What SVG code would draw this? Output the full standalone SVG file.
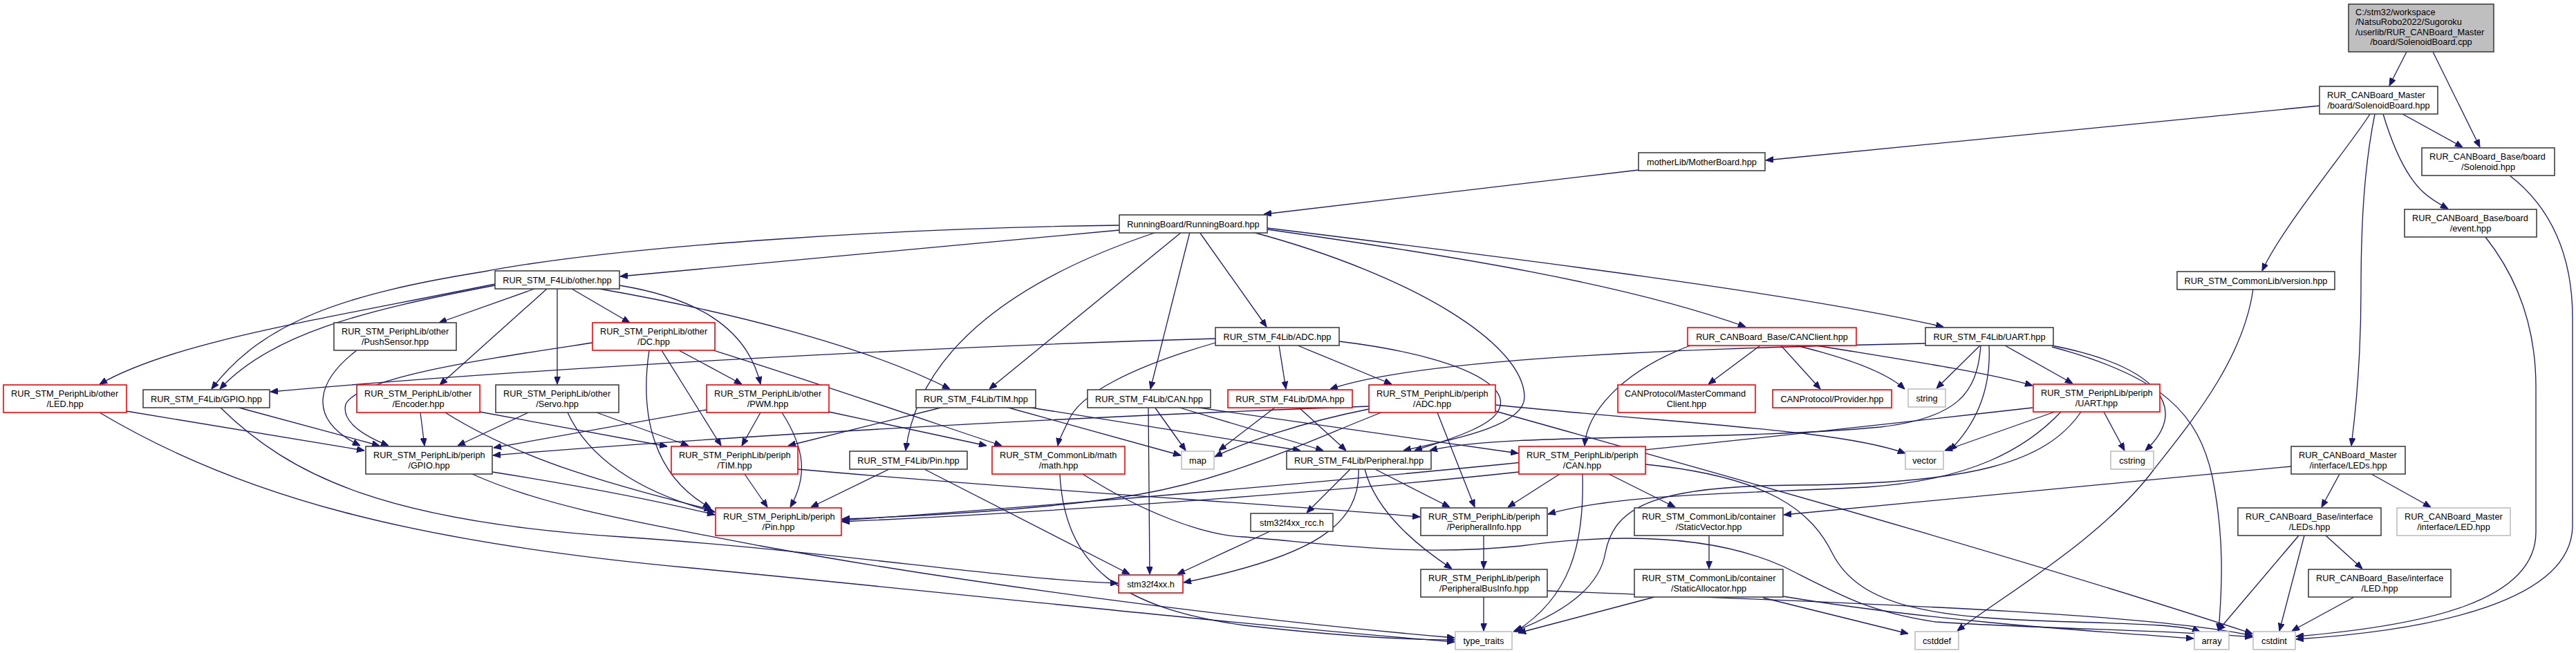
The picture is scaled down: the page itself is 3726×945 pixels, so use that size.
<svg xmlns="http://www.w3.org/2000/svg" width="3726" height="945" viewBox="0 0 3726 945">
<style>
text{font-family:"Liberation Sans",Arial,sans-serif;font-size:12.75px;fill:#000}
.c{text-anchor:middle}
.b{fill:#fff;stroke:#404040;stroke-width:1.6}
.r{fill:#fff;stroke:#ff0000;stroke-width:1.6}
.g{fill:#fff;stroke:#bfbfbf;stroke-width:1.6}
.m{fill:#bfbfbf;stroke:#404040;stroke-width:1.6}
.e path{fill:none;stroke:#191970;stroke-width:1.3;marker-end:url(#ah)}
</style>
<defs>
<marker id="ah" viewBox="0 0 11 9" refX="11" refY="4.5" markerWidth="11" markerHeight="9" markerUnits="userSpaceOnUse" orient="auto">
<path d="M0,0 L11,4.5 L0,9 z" fill="#191970" stroke="#191970" stroke-width="1"/>
</marker>
</defs>
<rect x="0" y="0" width="3726" height="945" fill="#fff"/>
<g id="edges" class="e">
<path d="M3481,75 L3456,124"/>
<path d="M3519,75 L3587,213"/>
<path d="M3475,165 L3562,213"/>
<path d="M3447,165 C3462,215 3480,255 3505,278 C3518,290 3530,296 3541,302"/>
<path d="M3428,165 C3400,210 3300,330 3272,392"/>
<path d="M3435,165 C3420,240 3415,320 3415,420 C3415,520 3408,590 3401,645"/>
<path d="M3355,153 L2554,232"/>
<path d="M3630,254 C3690,300 3721,370 3721,460 L3721,760 C3721,870 3520,912 3321,925"/>
<path d="M3595,343 C3640,400 3668,470 3668,560 L3668,770 C3668,870 3510,905 3321,921"/>
<path d="M3259,418 C3245,520 3170,610 3115,680 C3040,780 2900,860 2831,913"/>
<path d="M3384,686 L3358,734"/>
<path d="M3430,686 L3516,734"/>
<path d="M3314,675 L2580,745"/>
<path d="M3325,775 L3208,913"/>
<path d="M3333,775 L3297,913"/>
<path d="M3364,775 L3417,823"/>
<path d="M3405,864 L3315,913"/>
<path d="M2864,500 L2801,562"/>
<path d="M2877,500 C2880,560 2862,610 2820,652"/>
<path d="M2900,500 L2998,555"/>
<path d="M2968,500 C3120,530 3170,590 3103,652"/>
<path d="M2968,502 C3130,545 3180,600 3200,690 C3218,780 3214,850 3209,913"/>
<path d="M2785,497 C2400,505 2050,520 1924,563"/>
<path d="M2865,500 C2860,570 2830,605 2720,618 C2480,640 2180,625 2068,652"/>
<path d="M2972,596 L2813,652"/>
<path d="M3043,596 L3073,652"/>
<path d="M2940,590 C2500,640 1900,705 1218,753"/>
<path d="M2981,596 C2930,650 2850,695 2700,705 C2500,715 2340,715 2239,744"/>
<path d="M3010,596 C2960,670 2850,700 2600,702 C2400,703 2335,730 2322,800 C2312,860 2240,895 2189,914"/>
<path d="M2197,683 C1900,715 1500,742 1218,755"/>
<path d="M2256,686 L2181,734"/>
<path d="M2289,686 C2292,790 2270,865 2192,914"/>
<path d="M2327,686 L2423,734"/>
<path d="M2380,672 C2560,690 2620,740 2650,800 C2690,880 2800,895 3000,900 C3100,903 3160,905 3182,914"/>
<path d="M2238,855 C2600,870 3100,885 3258,920"/>
<path d="M2550,865 L2760,917"/>
<path d="M2579,863 C2800,900 3050,915 3173,924"/>
<path d="M2163,595 C2500,690 2900,800 3258,917"/>
<path d="M2163,586 C2450,615 2660,622 2756,656"/>
<path d="M1980,592 C1880,612 1800,640 1757,661"/>
<path d="M1980,588 C1500,605 1000,635 713,659"/>
<path d="M1998,597 C1900,635 1790,690 1650,715 C1500,740 1300,748 1218,751"/>
<path d="M2079,597 L2133,734"/>
<path d="M1850,500 L1860,563"/>
<path d="M1877,500 L2013,556"/>
<path d="M1758,496 C1640,530 1560,570 1545,610 C1538,625 1532,635 1530,645"/>
<path d="M1937,494 C2150,520 2225,580 2130,622 C2100,636 2070,644 2046,652"/>
<path d="M1758,490 C1400,500 800,530 391,567"/>
<path d="M1812,336 C2050,400 2205,500 2205,575 C2205,620 2080,640 2030,652"/>
<path d="M1845,589 L1763,652"/>
<path d="M1878,589 L1947,652"/>
<path d="M1670,589 L1715,652"/>
<path d="M1661,589 L1663,831"/>
<path d="M1703,589 L1914,652"/>
<path d="M1727,589 L2196,656"/>
<path d="M1365,589 L1140,645"/>
<path d="M1455,589 L1708,659"/>
<path d="M1485,589 L1881,652"/>
<path d="M1286,679 L1173,734"/>
<path d="M1337,679 L1634,831"/>
<path d="M1953,679 L1890,742"/>
<path d="M1989,679 L2097,734"/>
<path d="M1974,679 C1990,740 2050,790 2100,823"/>
<path d="M1965,679 C1968,760 1900,805 1712,843"/>
<path d="M1839,768 L1703,831"/>
<path d="M2146,775 L2146,823"/>
<path d="M2146,864 L2146,913"/>
<path d="M2472,775 L2472,823"/>
<path d="M2393,864 L2196,916"/>
<path d="M1533,686 C1540,820 1620,880 1800,905 C1950,922 2050,926 2104,926"/>
<path d="M1566,686 C1650,740 1740,775 1800,777 C1950,790 2050,805 2200,790 C2350,770 2480,775 2580,820 C2660,860 2700,885 2800,900 C2950,910 3150,912 3258,922"/>
<path d="M342,589 L549,645"/>
<path d="M318,589 C420,690 560,755 900,777 C1200,797 1450,838 1617,844"/>
<path d="M712,683 C820,700 940,722 1034,745"/>
<path d="M683,686 C780,730 900,752 1100,790 C1400,845 1800,897 2104,923"/>
<path d="M183,595 L527,652"/>
<path d="M144,597 C350,720 600,785 1000,822 C1400,860 1800,905 2104,929"/>
<path d="M516,507 C460,550 440,605 521,645"/>
<path d="M857,496 C700,520 520,545 500,585 C493,612 530,632 562,645"/>
<path d="M939,507 C925,600 945,690 1028,735"/>
<path d="M957,507 L1043,645"/>
<path d="M982,507 L1073,556"/>
<path d="M1032,507 C1200,560 1350,612 1449,645"/>
<path d="M1022,593 L714,648"/>
<path d="M1100,597 L1073,645"/>
<path d="M1131,597 C1165,650 1168,690 1143,734"/>
<path d="M1199,596 L1427,645"/>
<path d="M608,597 L614,645"/>
<path d="M644,597 C760,670 900,705 1030,738"/>
<path d="M694,596 L965,646"/>
<path d="M764,597 L662,645"/>
<path d="M821,597 C850,660 920,712 1034,741"/>
<path d="M863,597 L996,645"/>
<path d="M716,411 C450,465 250,495 144,556"/>
<path d="M716,413 C520,450 390,485 318,563"/>
<path d="M773,418 L635,467"/>
<path d="M791,418 L636,557"/>
<path d="M806,418 L806,556"/>
<path d="M827,418 L911,467"/>
<path d="M896,413 C1000,430 1080,470 1100,556"/>
<path d="M867,418 C1050,450 1250,500 1374,563"/>
<path d="M1619,326 C1300,330 900,355 700,393 C500,425 380,465 306,563"/>
<path d="M1619,333 L897,400"/>
<path d="M1673,336 C1480,400 1330,500 1310,652"/>
<path d="M1709,336 L1431,563"/>
<path d="M1721,336 L1664,563"/>
<path d="M1735,336 L1832,473"/>
<path d="M1833,332 C2100,370 2350,410 2525,473"/>
<path d="M1833,330 C2200,375 2600,425 2811,473"/>
<path d="M2370,246 L1828,310"/>
<path d="M2445,500 C2340,540 2295,600 2292,645"/>
<path d="M2546,500 L2471,556"/>
<path d="M2576,500 L2633,563"/>
<path d="M2598,500 C2680,520 2730,540 2755,563"/>
<path d="M2627,500 C2750,520 2880,540 2940,558"/>
<path d="M1077,686 L1110,734"/>
<path d="M1154,679 C1500,710 1850,730 2054,748"/>
</g>
<g id="n_main"><rect class="m" x="3397" y="6" width="210" height="69"/><text x="3407" y="21.5">C:/stm32/workspace</text><text x="3407" y="36">/NatsuRobo2022/Sugoroku</text><text x="3407" y="50.5">/userlib/RUR_CANBoard_Master</text><text class="c" x="3502" y="65">/board/SolenoidBoard.cpp</text></g>
<g id="n_sbh"><rect class="b" x="3355" y="125" width="171" height="40"/><text x="3366" y="142">RUR_CANBoard_Master</text><text class="c" x="3440.5" y="156.5">/board/SolenoidBoard.hpp</text></g>
<g id="n_sol"><rect class="b" x="3503" y="214" width="192" height="40"/><text x="3514" y="231">RUR_CANBoard_Base/board</text><text class="c" x="3599" y="245.5">/Solenoid.hpp</text></g>
<g id="n_evt"><rect class="b" x="3478" y="303" width="191" height="40"/><text x="3489" y="320">RUR_CANBoard_Base/board</text><text class="c" x="3573.5" y="334.5">/event.hpp</text></g>
<g id="n_mb"><rect class="b" x="2370" y="221" width="183" height="26"/><text class="c" x="2461.5" y="238.5">motherLib/MotherBoard.hpp</text></g>
<g id="n_rb"><rect class="b" x="1619" y="311" width="214" height="26"/><text class="c" x="1726" y="328.5">RunningBoard/RunningBoard.hpp</text></g>
<g id="n_ver"><rect class="b" x="3149" y="393" width="228" height="26"/><text class="c" x="3263" y="410.5">RUR_STM_CommonLib/version.hpp</text></g>
<g id="n_other"><rect class="b" x="716" y="392" width="180" height="26"/><text class="c" x="806" y="409.5">RUR_STM_F4Lib/other.hpp</text></g>
<g id="n_adcf"><rect class="b" x="1758" y="474" width="179" height="26"/><text class="c" x="1847.5" y="491.5">RUR_STM_F4Lib/ADC.hpp</text></g>
<g id="n_cancl"><rect class="r" x="2441" y="474" width="244" height="26"/><text class="c" x="2563" y="491.5">RUR_CANBoard_Base/CANClient.hpp</text></g>
<g id="n_uartf"><rect class="b" x="2785" y="474" width="185" height="26"/><text class="c" x="2877.5" y="491.5">RUR_STM_F4Lib/UART.hpp</text></g>
<g id="n_push"><rect class="b" x="483" y="467" width="177" height="40"/><text x="494" y="484">RUR_STM_PeriphLib/other</text><text class="c" x="571.5" y="498.5">/PushSensor.hpp</text></g>
<g id="n_dc"><rect class="r" x="857" y="467" width="177" height="40"/><text x="868" y="484">RUR_STM_PeriphLib/other</text><text class="c" x="945.5" y="498.5">/DC.hpp</text></g>
<g id="n_led"><rect class="r" x="5" y="557" width="178" height="40"/><text x="16" y="574">RUR_STM_PeriphLib/other</text><text class="c" x="94" y="588.5">/LED.hpp</text></g>
<g id="n_gpiof"><rect class="b" x="207" y="564" width="183" height="26"/><text class="c" x="298.5" y="581.5">RUR_STM_F4Lib/GPIO.hpp</text></g>
<g id="n_enc"><rect class="r" x="516" y="557" width="178" height="40"/><text x="527" y="574">RUR_STM_PeriphLib/other</text><text class="c" x="605" y="588.5">/Encoder.hpp</text></g>
<g id="n_servo"><rect class="b" x="717" y="557" width="178" height="40"/><text x="728" y="574">RUR_STM_PeriphLib/other</text><text class="c" x="806" y="588.5">/Servo.hpp</text></g>
<g id="n_pwm"><rect class="r" x="1022" y="557" width="177" height="40"/><text x="1033" y="574">RUR_STM_PeriphLib/other</text><text class="c" x="1110.5" y="588.5">/PWM.hpp</text></g>
<g id="n_timf"><rect class="b" x="1325" y="564" width="173" height="26"/><text class="c" x="1411.5" y="581.5">RUR_STM_F4Lib/TIM.hpp</text></g>
<g id="n_canf"><rect class="b" x="1573" y="564" width="178" height="26"/><text class="c" x="1662" y="581.5">RUR_STM_F4Lib/CAN.hpp</text></g>
<g id="n_dma"><rect class="r" x="1776" y="564" width="180" height="26"/><text class="c" x="1866" y="581.5">RUR_STM_F4Lib/DMA.hpp</text></g>
<g id="n_adcp"><rect class="r" x="1980" y="557" width="183" height="40"/><text x="1991" y="574">RUR_STM_PeriphLib/periph</text><text class="c" x="2071.5" y="588.5">/ADC.hpp</text></g>
<g id="n_mcc"><rect class="r" x="2340" y="557" width="199" height="40"/><text x="2350" y="574">CANProtocol/MasterCommand</text><text class="c" x="2439.5" y="588.5">Client.hpp</text></g>
<g id="n_prov"><rect class="r" x="2564" y="564" width="172" height="26"/><text class="c" x="2650" y="581.5">CANProtocol/Provider.hpp</text></g>
<g id="n_string"><rect class="g" x="2760" y="563" width="54" height="26"/><text class="c" x="2787" y="580.5">string</text></g>
<g id="n_uartp"><rect class="r" x="2941" y="556" width="183" height="40"/><text x="2952" y="573">RUR_STM_PeriphLib/periph</text><text class="c" x="3032.5" y="587.5">/UART.hpp</text></g>
<g id="n_gpiop"><rect class="b" x="529" y="646" width="183" height="40"/><text x="540" y="663">RUR_STM_PeriphLib/periph</text><text class="c" x="620.5" y="677.5">/GPIO.hpp</text></g>
<g id="n_timp"><rect class="r" x="971" y="646" width="183" height="40"/><text x="982" y="663">RUR_STM_PeriphLib/periph</text><text class="c" x="1062.5" y="677.5">/TIM.hpp</text></g>
<g id="n_pinf"><rect class="b" x="1229" y="653" width="170" height="26"/><text class="c" x="1314" y="670.5">RUR_STM_F4Lib/Pin.hpp</text></g>
<g id="n_math"><rect class="r" x="1435" y="646" width="192" height="40"/><text x="1446" y="663">RUR_STM_CommonLib/math</text><text class="c" x="1531" y="677.5">/math.hpp</text></g>
<g id="n_map"><rect class="g" x="1709" y="653" width="47" height="26"/><text class="c" x="1732.5" y="670.5">map</text></g>
<g id="n_periph"><rect class="b" x="1861" y="653" width="209" height="26"/><text class="c" x="1965.5" y="670.5">RUR_STM_F4Lib/Peripheral.hpp</text></g>
<g id="n_canp"><rect class="r" x="2197" y="646" width="183" height="40"/><text x="2208" y="663">RUR_STM_PeriphLib/periph</text><text class="c" x="2288.5" y="677.5">/CAN.hpp</text></g>
<g id="n_vector"><rect class="g" x="2756" y="653" width="55" height="26"/><text class="c" x="2783.5" y="670.5">vector</text></g>
<g id="n_cstring"><rect class="g" x="3053" y="653" width="62" height="26"/><text class="c" x="3084" y="670.5">cstring</text></g>
<g id="n_ledsm"><rect class="b" x="3314" y="646" width="165" height="40"/><text x="3325" y="663">RUR_CANBoard_Master</text><text class="c" x="3396.5" y="677.5">/interface/LEDs.hpp</text></g>
<g id="n_pinp"><rect class="r" x="1035" y="735" width="182" height="40"/><text x="1046" y="752">RUR_STM_PeriphLib/periph</text><text class="c" x="1126" y="766.5">/Pin.hpp</text></g>
<g id="n_rcc"><rect class="b" x="1809" y="743" width="119" height="26"/><text class="c" x="1868.5" y="760.5">stm32f4xx_rcc.h</text></g>
<g id="n_pinfo"><rect class="b" x="2055" y="735" width="183" height="40"/><text x="2066" y="752">RUR_STM_PeriphLib/periph</text><text class="c" x="2146.5" y="766.5">/PeripheralInfo.hpp</text></g>
<g id="n_svec"><rect class="b" x="2364" y="735" width="215" height="40"/><text x="2375" y="752">RUR_STM_CommonLib/container</text><text class="c" x="2471.5" y="766.5">/StaticVector.hpp</text></g>
<g id="n_ledsb"><rect class="b" x="3237" y="735" width="207" height="40"/><text x="3248" y="752">RUR_CANBoard_Base/interface</text><text class="c" x="3340.5" y="766.5">/LEDs.hpp</text></g>
<g id="n_ledm"><rect class="g" x="3467" y="735" width="164" height="40"/><text x="3478" y="752">RUR_CANBoard_Master</text><text class="c" x="3549" y="766.5">/interface/LED.hpp</text></g>
<g id="n_stm"><rect class="r" x="1618" y="832" width="93" height="26"/><text class="c" x="1664.5" y="849.5">stm32f4xx.h</text></g>
<g id="n_pbus"><rect class="b" x="2055" y="824" width="183" height="40"/><text x="2066" y="841">RUR_STM_PeriphLib/periph</text><text class="c" x="2146.5" y="855.5">/PeripheralBusInfo.hpp</text></g>
<g id="n_salloc"><rect class="b" x="2364" y="824" width="215" height="40"/><text x="2375" y="841">RUR_STM_CommonLib/container</text><text class="c" x="2471.5" y="855.5">/StaticAllocator.hpp</text></g>
<g id="n_ledb"><rect class="b" x="3339" y="824" width="206" height="40"/><text x="3350" y="841">RUR_CANBoard_Base/interface</text><text class="c" x="3442" y="855.5">/LED.hpp</text></g>
<g id="n_tt"><rect class="g" x="2105" y="914" width="82" height="26"/><text class="c" x="2146" y="931.5">type_traits</text></g>
<g id="n_cstddef"><rect class="g" x="2770" y="914" width="63" height="26"/><text class="c" x="2801.5" y="931.5">cstddef</text></g>
<g id="n_array"><rect class="g" x="3174" y="914" width="50" height="26"/><text class="c" x="3199" y="931.5">array</text></g>
<g id="n_cstdint"><rect class="g" x="3259" y="914" width="61" height="26"/><text class="c" x="3289.5" y="931.5">cstdint</text></g>
</svg>
